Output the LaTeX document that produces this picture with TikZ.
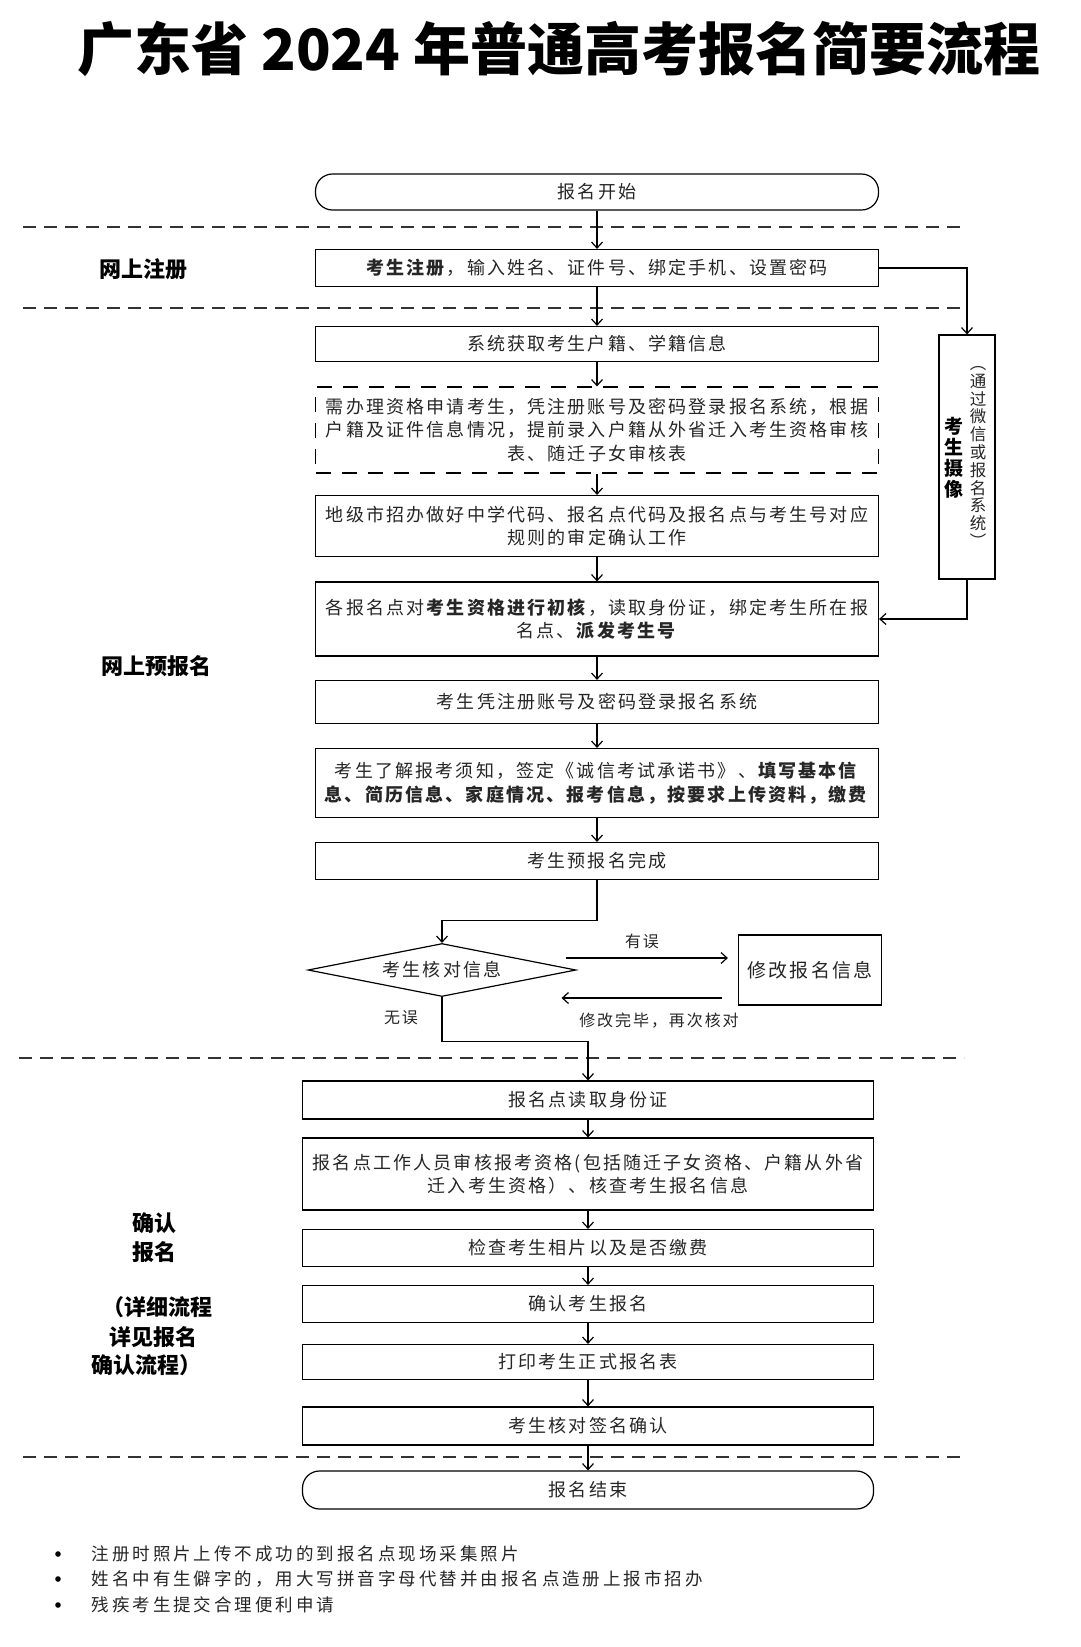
\documentclass[tikz,border=0pt]{standalone}
\usepackage{fontspec}
\setmainfont{Noto Sans CJK SC}
\newfontfamily\spfont{Noto Sans CJK SC}[LetterSpace=12]
\newfontfamily\notefont{Noto Sans CJK SC}[LetterSpace=17]
\usetikzlibrary{arrows.meta,shapes.geometric,calc}
\begin{document}
\begin{tikzpicture}[x=1pt,y=-1pt,
  line width=1.2pt,
  txt/.style={text=black!85, font=\spfont\fontsize{18}{23.5}\selectfont, align=center, inner sep=0pt},
  box/.style={draw=black, txt, minimum width=563, minimum height=#1},
  wbox/.style={box=#1, minimum width=571},
  term/.style={draw=black, txt, minimum width=563, minimum height=#1, rounded corners=17},
  dbox/.style={box=#1, dash pattern=on 15pt off 11pt},
  arr/.style={draw=black, -{Straight Barb[length=6pt,width=11pt]}},
  sep/.style={draw=black!80, line width=1.3pt, dash pattern=on 13pt off 8pt},
  lab/.style={font=\fontsize{22}{26}\selectfont\bfseries, inner sep=0pt},
  small/.style={text=black!85, font=\spfont\fontsize{16}{20}\selectfont, inner sep=0pt},
  note/.style={text=black!85, font=\notefont\fontsize{17.5}{20}\selectfont, inner sep=0pt, anchor=west}
]
\useasboundingbox (0,0) rectangle (1080,1647);
\fill[white] (0,0) rectangle (1080,1647);

% title
\node[font=\fontsize{57}{62}\selectfont\bfseries, inner sep=0pt] (title) at (559,49) {广东省 2024 年普通高考报名简要流程};

% separators
\draw[sep] (23,227) -- (964,227);
\draw[sep] (23,308) -- (964,308);
\draw[sep] (19,1058) -- (964,1058);
\draw[sep] (23,1457) -- (964,1457);

% left labels
\node[lab] (l1) at (143,269) {网上注册};
\node[lab] (l2) at (156,666) {网上预报名};
\node[lab] (l3a) at (154,1223) {确认};
\node[lab] (l3b) at (154,1252) {报名};
\node[lab] (l3c) at (157,1307) {（详细流程};
\node[lab] (l3d) at (153,1337) {详见报名};
\node[lab] (l3e) at (146,1365) {确认流程）};

% main column
\node[term=36] (start) at (597,192) {报名开始};
\node[box=37] (reg) at (597,268) {\textbf{考生注册}，输入姓名、证件号、绑定手机、设置密码};
\node[box=35] (sys) at (597,344) {系统获取考生户籍、学籍信息};
\node[dbox=86] (dq) at (597,430) {需办理资格申请考生，凭注册账号及密码登录报名系统，根据\\户籍及证件信息情况，提前录入户籍从外省迁入考生资格审核\\表、随迁子女审核表};
\node[box=61] (city) at (597,526) {地级市招办做好中学代码、报名点代码及报名点与考生号对应\\规则的审定确认工作};
\node[box=74] (point) at (597,619) {各报名点对\textbf{考生资格进行初核}，读取身份证，绑定考生所在报\\名点、\textbf{派发考生号}};
\node[box=43] (login) at (597,702) {考生凭注册账号及密码登录报名系统};
\node[box=69] (fill) at (597,783) {考生了解报考须知，签定《诚信考试承诺书》、\textbf{填写基本信}\\\textbf{息、简历信息、家庭情况、报考信息，按要求上传资料，缴费}};
\node[box=37] (done) at (597,861) {考生预报名完成};

\node[diamond, draw=black, aspect=5, minimum width=268, minimum height=53, txt] (dia) at (442,970) {考生核对信息};
\node[draw=black, minimum width=143, minimum height=70, txt, font=\spfont\fontsize{19}{23}\selectfont] (mod) at (810,970) {修改报名信息};

\node[wbox=38] (read) at (588,1100) {报名点读取身份证};
\node[wbox=72] (staff) at (588,1174) {报名点工作人员审核报考资格(包括随迁子女资格、户籍从外省\\迁入考生资格）、核查考生报名信息};
\node[wbox=37] (photo) at (588,1248) {检查考生相片以及是否缴费};
\node[wbox=37] (conf) at (588,1304) {确认考生报名};
\node[wbox=35] (print) at (588,1362) {打印考生正式报名表};
\node[wbox=38] (sign) at (588,1426) {考生核对签名确认};
\node[term=38, minimum width=571] (end) at (588,1490) {报名结束};

% side box
\node[draw=black, minimum width=56, minimum height=244, inner sep=0pt] (side) at (967,457) {};
\node[font=\fontsize{19}{21}\selectfont\bfseries, align=center, inner sep=0pt] (sidea) at (954,458) {考\\生\\摄\\像};
\node[small, align=center, font=\spfont\fontsize{16.5}{17.8}\selectfont] (sideb) at (978,457) {︵\\通\\过\\微\\信\\或\\报\\名\\系\\统\\︶};

% connectors
\draw[arr] (start) -- (reg);
\draw[arr] (reg) -- (sys);
\draw[arr] (sys) -- (dq);
\draw[arr] (dq) -- (city);
\draw[arr] (city) -- (point);
\draw[arr] (point) -- (login);
\draw[arr] (login) -- (fill);
\draw[arr] (fill) -- (done);
\draw[arr] (done.south) -- ++(0,40) -| (dia.north);
\draw[arr] (dia.south) -- ++(0,44) -| (read.north);
\draw[arr] ($(dia.east)+(-11,-12)$) coordinate (e1) -- ($(mod.west)+(-10,-12)$) coordinate (e2);
\draw[arr] ($(mod.west)+(-16,28)$) coordinate (b1) -- ($(dia.east)+(-15,28)$) coordinate (b2);
\draw[arr] (reg.east) -| (side.north);
\draw[arr] (side.south) |- (point.east);
\draw[arr] (read) -- (staff);
\draw[arr] (staff) -- (photo);
\draw[arr] (photo) -- (conf);
\draw[arr] (conf) -- (print);
\draw[arr] (print) -- (sign);
\draw[arr] (sign) -- (end);

% branch labels
\node[small] (yw) at (642,941) {有误};
\node[small] (ww) at (401,1018) {无误};
\node[small] (xg) at (659,1021) {修改完毕，再次核对};

% notes
\fill[black] (58,1554) circle (2.8);
\fill[black] (58,1579) circle (2.8);
\fill[black] (58,1605) circle (2.8);
\node[note] (n1) at (91,1554) {注册时照片上传不成功的到报名点现场采集照片};
\node[note] (n2) at (91,1579) {姓名中有生僻字的，用大写拼音字母代替并由报名点造册上报市招办};
\node[note] (n3) at (91,1605) {残疾考生提交合理便利申请};
\end{tikzpicture}
\end{document}
